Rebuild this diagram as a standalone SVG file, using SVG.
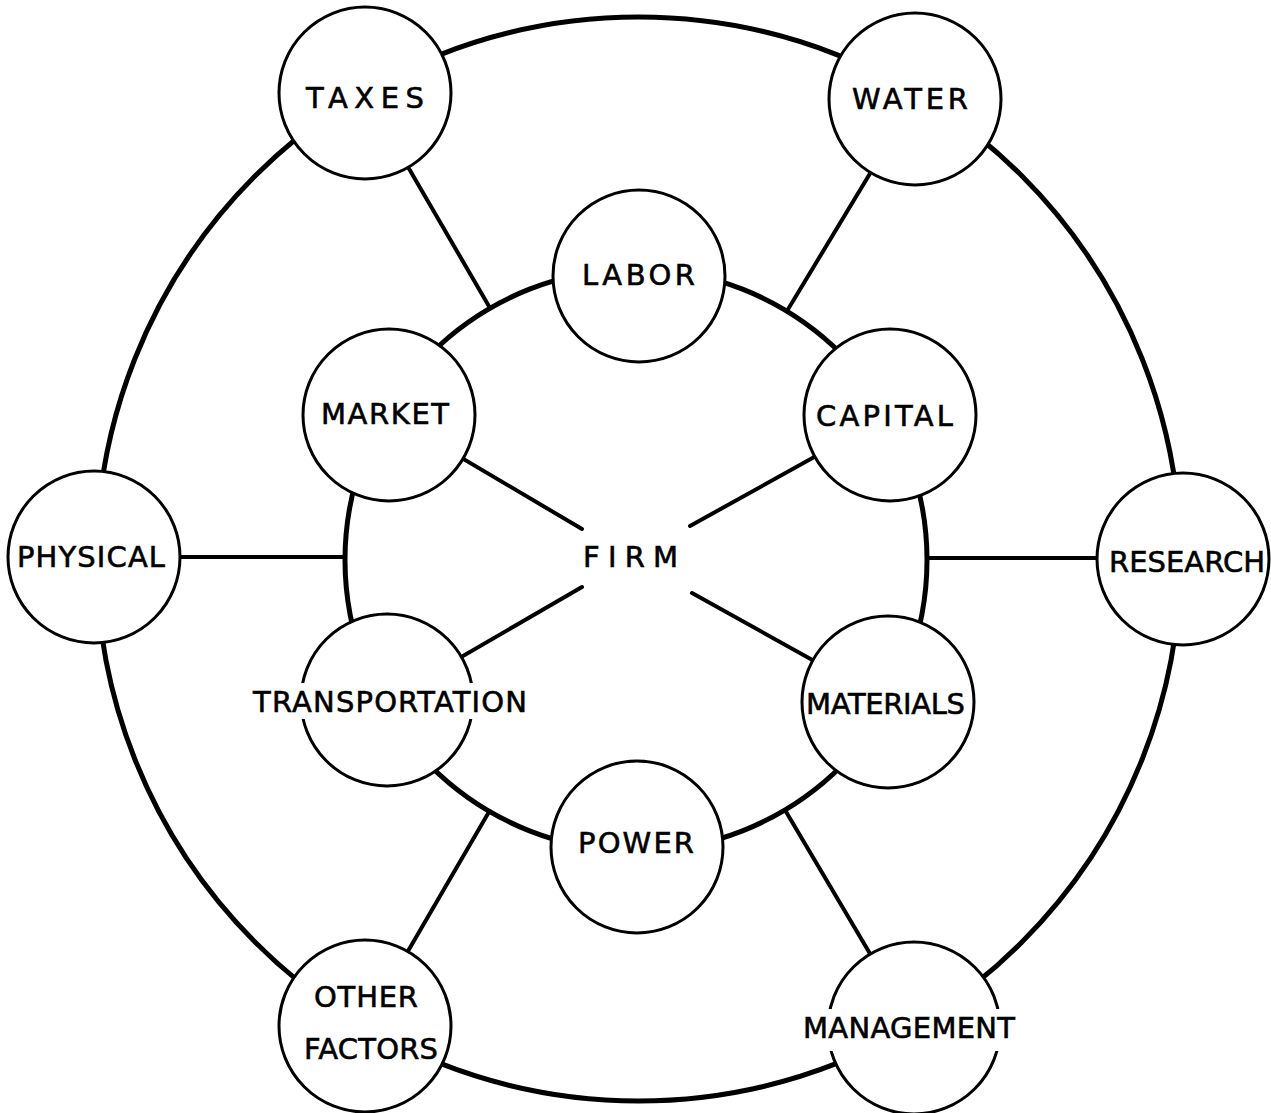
<svg xmlns="http://www.w3.org/2000/svg" width="1271" height="1113" viewBox="0 0 1271 1113">
<style>
.ring{fill:none;stroke:#000;stroke-width:5}
.spoke{stroke:#000;stroke-width:4;stroke-linecap:round}
.node{fill:#fff;stroke:#000;stroke-width:3}
.lbl{font-family:"DejaVu Sans",sans-serif;font-size:29px;fill:#000;stroke:#000;stroke-width:0.6}
.mask{fill:#fff;stroke:none}
</style>
<rect width="1271" height="1113" fill="#fff"/>
<g id="connectors">
<circle class="ring" cx="638.5" cy="559" r="542"/>
<circle class="ring" cx="636" cy="560" r="291"/>
<line class="spoke" x1="365" y1="93" x2="490" y2="308"/>
<line class="spoke" x1="915" y1="99" x2="787" y2="311"/>
<line class="spoke" x1="365" y1="1025" x2="489.5" y2="811"/>
<line class="spoke" x1="914" y1="1028" x2="785" y2="810"/>
<line class="spoke" x1="94" y1="557" x2="345" y2="557"/>
<line class="spoke" x1="1183" y1="558" x2="927" y2="558"/>
<line class="spoke" x1="389" y1="415" x2="582" y2="529"/>
<line class="spoke" x1="890" y1="415" x2="690" y2="526"/>
<line class="spoke" x1="387" y1="700" x2="582" y2="587"/>
<line class="spoke" x1="888" y1="702" x2="692" y2="593"/>
</g>
<g id="taxes"><circle class="node" cx="365" cy="93" r="86"/><text class="lbl" x="306" y="108" textLength="118" lengthAdjust="spacing">TAXES</text></g>
<g id="water"><circle class="node" cx="915" cy="99" r="86"/><text class="lbl" x="852" y="109" textLength="116" lengthAdjust="spacing">WATER</text></g>
<g id="physical"><circle class="node" cx="94" cy="557" r="86"/><text class="lbl" x="17" y="567" textLength="148" lengthAdjust="spacing">PHYSICAL</text></g>
<g id="research"><circle class="node" cx="1183" cy="559" r="86"/><text class="lbl" x="1109" y="572" textLength="156" lengthAdjust="spacing">RESEARCH</text></g>
<g id="other-factors"><circle class="node" cx="365" cy="1026" r="86"/><text class="lbl" x="314" y="1007" textLength="104" lengthAdjust="spacing">OTHER</text><text class="lbl" x="304" y="1059" textLength="134" lengthAdjust="spacing">FACTORS</text></g>
<g id="management"><circle class="node" cx="914" cy="1028" r="86"/><rect class="mask" x="801" y="1009" width="217" height="42"/><text class="lbl" x="803" y="1038" textLength="212" lengthAdjust="spacing">MANAGEMENT</text></g>
<g id="labor"><circle class="node" cx="639" cy="276" r="86"/><text class="lbl" x="582" y="285" textLength="113" lengthAdjust="spacing">LABOR</text></g>
<g id="market"><circle class="node" cx="389" cy="415" r="86"/><text class="lbl" x="321" y="424" textLength="128" lengthAdjust="spacing">MARKET</text></g>
<g id="capital"><circle class="node" cx="890" cy="415" r="86"/><text class="lbl" x="816" y="426" textLength="137" lengthAdjust="spacing">CAPITAL</text></g>
<g id="firm"><text class="lbl" x="583" y="567" textLength="95" lengthAdjust="spacing">FIRM</text></g>
<g id="transportation"><circle class="node" cx="387" cy="700" r="86"/><rect class="mask" x="249" y="683" width="282" height="36"/><text class="lbl" x="253" y="712" textLength="274" lengthAdjust="spacing">TRANSPORTATION</text></g>
<g id="materials"><circle class="node" cx="888" cy="702" r="86"/><text class="lbl" x="806" y="714" textLength="159" lengthAdjust="spacing">MATERIALS</text></g>
<g id="power"><circle class="node" cx="637" cy="847" r="86"/><text class="lbl" x="578" y="853" textLength="116" lengthAdjust="spacing">POWER</text></g>
</svg>
